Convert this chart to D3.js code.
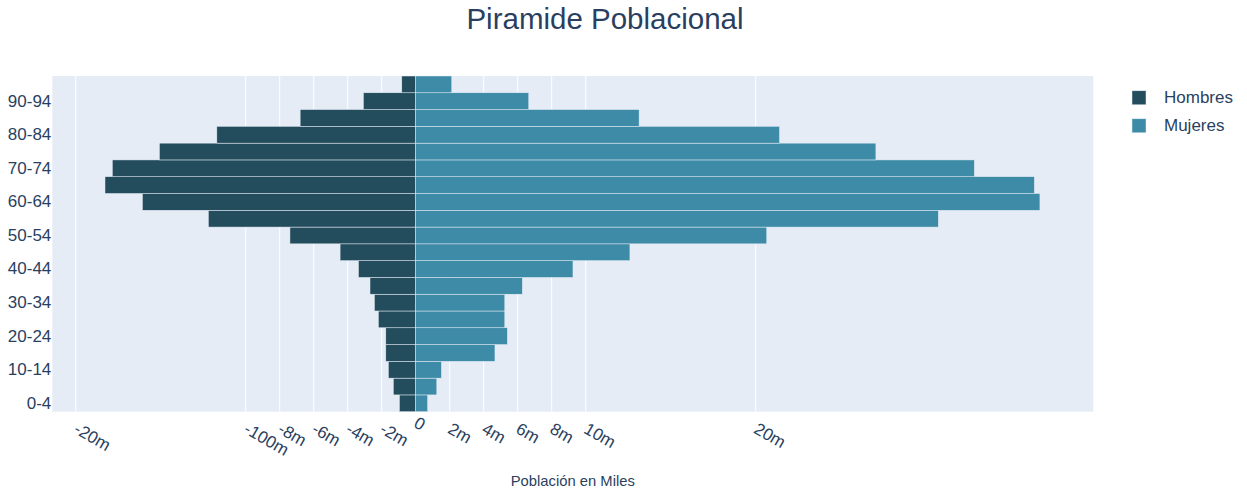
<!DOCTYPE html>
<html>
<head>
<meta charset="utf-8">
<script src="https://cdn.jsdelivr.net/npm/d3@7"></script>
<style>
  html, body { margin: 0; padding: 0; background: #fff; }
  svg { display: block; font-family: "Liberation Sans", Arial, sans-serif; }
</style>
</head>
<body>
<svg id="chart" width="1247" height="492"></svg>
<script>
// ---- data (values in the chart's own "m" units) ----
const ageGroups = ["0-4","5-9","10-14","15-19","20-24","25-29","30-34","35-39","40-44","45-49",
                   "50-54","55-59","60-64","65-69","70-74","75-79","80-84","85-89","90-94","95-99"];
const hombres = [-0.96,-1.32,-1.61,-1.76,-1.76,-2.2,-2.43,-2.69,-3.37,-4.45,
                 -7.4,-12.2,-16.08,-18.28,-17.85,-15.08,-11.7,-6.8,-3.08,-0.82];
const mujeres = [0.7,1.24,1.51,4.66,5.39,5.24,5.24,6.27,9.25,12.6,
                 20.65,30.74,36.72,36.39,32.86,27.07,21.4,13.14,6.65,2.12];
const tickVals = [-20,-10,-8,-6,-4,-2,0,2,4,6,8,10,20];
const tickText = ["-20m","-100m","-8m","-6m","-4m","-2m","0","2m","4m","6m","8m","10m","20m"];
const yTickLabels = ["0-4","10-14","20-24","30-34","40-44","50-54","60-64","70-74","80-84","90-94"];
const seriesNames = ["Hombres","Mujeres"];

// ---- layout ----
const W = 1247, H = 492;
const plot = { left: 52.3, right: 1093.3, top: 76, bottom: 411.7 };
const colors = { Hombres: "#234d5c", Mujeres: "#3d8ba6" };
const textColor = "#2a3f5f";
const bg = "#E5ECF6";

const svg = d3.select("#chart");

const x = d3.scaleLinear().domain([-21.38, 39.86]).range([plot.left, plot.right]);
const y = d3.scaleBand().domain(ageGroups.slice().reverse()).range([plot.top, plot.bottom]).padding(0);

// background
svg.append("rect")
  .attr("x", plot.left).attr("y", plot.top)
  .attr("width", plot.right - plot.left).attr("height", plot.bottom - plot.top)
  .attr("fill", bg);

// gridlines
svg.append("g").selectAll("line").data(tickVals).join("line")
  .attr("x1", d => x(d)).attr("x2", d => x(d))
  .attr("y1", plot.top).attr("y2", plot.bottom)
  .attr("stroke", "#fff").attr("stroke-width", 1);

// bars
const rows = ageGroups.map((g, i) => ({ g, h: hombres[i], m: mujeres[i] }));
const barG = svg.append("g");
barG.selectAll("rect.h").data(rows).join("rect").attr("class", "h")
  .attr("x", d => x(d.h)).attr("width", d => x(0) - x(d.h))
  .attr("y", d => y(d.g)).attr("height", y.bandwidth())
  .attr("fill", colors.Hombres).attr("stroke", bg).attr("stroke-width", 0.5);
barG.selectAll("rect.m").data(rows).join("rect").attr("class", "m")
  .attr("x", x(0)).attr("width", d => x(d.m) - x(0))
  .attr("y", d => y(d.g)).attr("height", y.bandwidth())
  .attr("fill", colors.Mujeres).attr("stroke", bg).attr("stroke-width", 0.5);

// x tick labels (rotated 30deg)
svg.append("g").selectAll("text").data(tickVals).join("text")
  .attr("transform", d => `translate(${x(d)},${d === 0 ? 421 : 427}) rotate(30)`)
  .attr("dy", "0.35em")
  .attr("text-anchor", "start")
  .attr("font-size", 17).attr("fill", textColor)
  .text((d, i) => tickText[i]);

// y tick labels
const yAxis = d3.axisLeft(y).tickValues(yTickLabels).tickSize(0).tickPadding(1);
const gy = svg.append("g").attr("transform", `translate(${plot.left},0)`).call(yAxis);
gy.select(".domain").remove();
gy.selectAll(".tick text").attr("font-size", 17).attr("fill", textColor)
  .attr("font-family", "Liberation Sans, Arial, sans-serif");

// title
svg.append("text").attr("x", 605).attr("y", 28.5).attr("text-anchor", "middle")
  .attr("font-size", 29.5).attr("fill", textColor).text("Piramide Poblacional");

// x axis title
svg.append("text").attr("x", (plot.left + plot.right) / 2).attr("y", 486).attr("text-anchor", "middle")
  .attr("font-size", 14.8).attr("fill", textColor).text("Población en Miles");

// legend
const lg = svg.append("g").selectAll("g").data(seriesNames).join("g")
  .attr("transform", (d, i) => `translate(1132,${97.8 + i * 28})`);
lg.append("rect").attr("x", 0).attr("y", -7).attr("width", 14).attr("height", 14)
  .attr("fill", d => colors[d]).attr("stroke", bg).attr("stroke-width", 0.5);
lg.append("text").attr("x", 32).attr("y", 5.5).attr("font-size", 17).attr("fill", textColor)
  .text(d => d);
</script>
</body>
</html>
